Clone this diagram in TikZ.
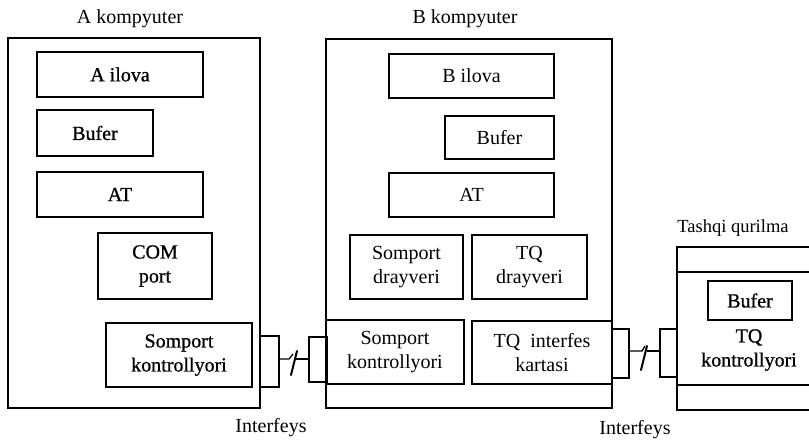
\documentclass[tikz,border=0pt]{standalone}
\usepackage{fontspec}
\setmainfont{Liberation Serif}
\newfontfamily\heavy{Liberation Serif}[FakeBold=0.8]
\begin{document}
\begin{tikzpicture}[x=1pt,y=-1pt,
  every node/.style={font=\fontsize{20}{24}\selectfont},
  box/.style={draw, line width=1.2pt, inner sep=0pt, align=center},
  outer/.style={draw, line width=1.3pt, inner sep=0pt},
  wire/.style={line width=1.3pt},
  slash/.style={line width=2pt, line cap=round},
  lbl/.style={inner sep=0pt}]
\useasboundingbox (0,0) rectangle (809,440);

% A computer
\node[outer, minimum width=252, minimum height=370] (A) at (134,223) {};
\node[lbl] (Alab) at (130,19) {A kompyuter};
\node[box, minimum width=166, minimum height=45, font=\fontsize{20}{24}\heavy] (Ailova) at (120,74.5) {A ilova};
\node[box, minimum width=116, minimum height=46, font=\fontsize{20}{24}\heavy] (Abuf) at (95,133) {Bufer};
\node[box, minimum width=166, minimum height=45, font=\fontsize{20}{24}\heavy] (Aat) at (120,194.5) {AT};
\node[box, minimum width=114, minimum height=66, font=\fontsize{20}{24}\heavy] (Acom) at (155,266) {COM\\port};
\node[box, minimum width=146, minimum height=64, font=\fontsize{20}{24}\heavy] (Asc) at (179,355) {Somport\\kontrollyori};

% B computer
\node[outer, minimum width=286, minimum height=369] (B) at (469,223.5) {};
\node[lbl] (Blab) at (465,19) {B kompyuter};
\node[box, minimum width=165, minimum height=44] (Bilova) at (471.5,76) {B ilova};
\node[box, minimum width=109, minimum height=43] (Bbuf) at (499.5,137.5) {Bufer};
\node[box, minimum width=165, minimum height=44] (Bat) at (471.5,195) {AT};
\node[box, minimum width=113, minimum height=64] (Bsd) at (406.5,267) {Somport\\drayveri};
\node[box, minimum width=115, minimum height=64] (Btd) at (529.5,267) {TQ\\drayveri};
\node[box, minimum width=138, minimum height=64] (Bsc) at (395,352) {Somport\\kontrollyori};
\node[box, minimum width=140, minimum height=63] (Bik) at (542,352.5) {TQ~~interfes\\kartasi};

% interface 1
\node[box, minimum width=19, minimum height=51] (I1a) at (269.5,361.5) {};
\node[box, minimum width=18, minimum height=45] (I1b) at (318,359.5) {};
\coordinate (c1) at (0,359);
\draw[wire] (I1a.east |- c1) -- (289,359) -- (293,354);
\draw[slash] (291,375) -- (297,351);
\draw[wire] (296,359) -- (I1b.west |- c1);
\node[lbl] (If1) at (271,428) {Interfeys};

% interface 2
\node[box, minimum width=17, minimum height=49] (I2a) at (620.5,353.5) {};
\node[box, minimum width=17, minimum height=48] (I2b) at (668.5,353) {};
\coordinate (c2) at (0,351);
\draw[wire] (I2a.east |- c2) -- (642,351) -- (645,346);
\draw[slash] (641,370) -- (647,346);
\draw[wire] (647,351) -- (I2b.west |- c2);
\node[lbl] (If2) at (635,430) {Interfeys};

% external device
\coordinate (T1) at (677,247);
\coordinate (T2) at (677,410);
\draw[wire] (809,247) -- (T1) -- (T2) -- (809,410);
\draw[wire] (677,272) -- (809,272);
\draw[wire] (677,385) -- (809,385);
\node[lbl, font=\fontsize{18.5}{22}\selectfont] (Tlab) at (733,228) {Tashqi qurilma};
\node[box, minimum width=84, minimum height=39, font=\fontsize{20}{24}\heavy] (Tbuf) at (750,300.5) {Bufer};
\node[lbl, align=center, font=\fontsize{20}{24}\heavy] (Tkon) at (749,350) {TQ\\kontrollyori};
\end{tikzpicture}
\end{document}
